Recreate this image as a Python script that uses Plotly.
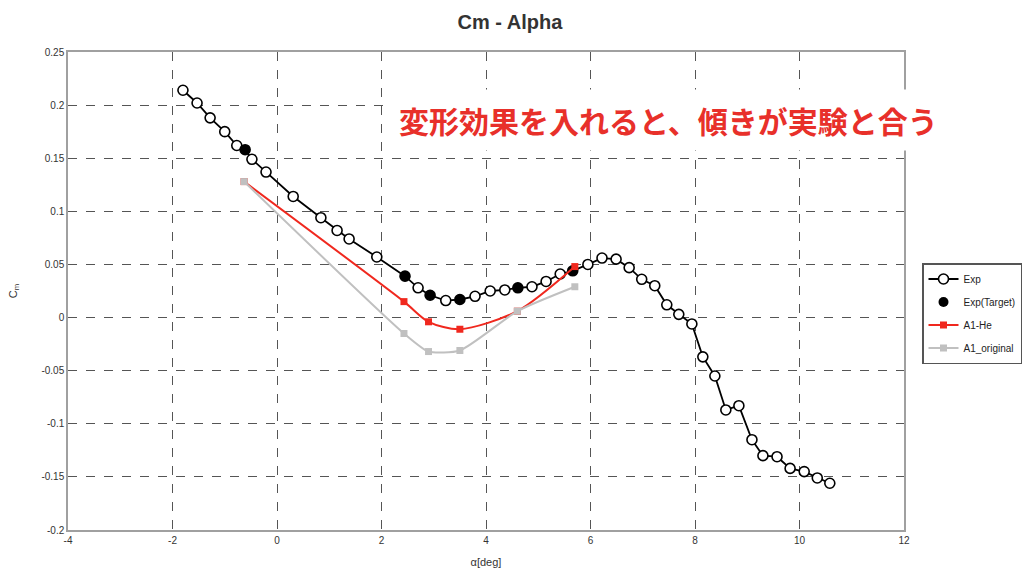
import plotly.graph_objects as go

# Experimental Cm vs alpha
exp_alpha = [-1.80, -1.53, -1.28, -1.00, -0.77, -0.61, -0.48, -0.21, 0.31, 0.84, 1.15, 1.38, 1.91,
             2.45, 2.70, 2.93, 3.23, 3.50, 3.79, 4.08, 4.36, 4.61, 4.88, 5.15, 5.42, 5.66, 5.95,
             6.22, 6.49, 6.74, 6.98, 7.23, 7.46, 7.69, 7.94, 8.15, 8.38, 8.59, 8.84, 9.09, 9.30,
             9.57, 9.82, 10.09, 10.34, 10.58]
exp_cm = [0.214, 0.202, 0.188, 0.175, 0.162, 0.158, 0.149, 0.137, 0.114, 0.094, 0.082, 0.074, 0.057,
          0.039, 0.028, 0.021, 0.016, 0.017, 0.020, 0.025, 0.026, 0.028, 0.029, 0.034, 0.041, 0.044, 0.050,
          0.056, 0.055, 0.047, 0.036, 0.030, 0.012, 0.003, -0.006, -0.037, -0.055, -0.087, -0.083, -0.115, -0.130,
          -0.131, -0.142, -0.145, -0.151, -0.156]

# Target points
tgt_alpha = [-0.61, 2.45, 2.93, 3.50, 4.61, 5.66]
tgt_cm = [0.158, 0.039, 0.021, 0.017, 0.028, 0.044]

# Calculations
calc_alpha = [-0.63, 2.43, 2.90, 3.50, 4.60, 5.70]
he_cm = [0.128, 0.015, -0.004, -0.011, 0.006, 0.048]
orig_cm = [0.128, -0.015, -0.032, -0.031, 0.006, 0.029]

y_ticks = [0.25, 0.2, 0.15, 0.1, 0.05, 0, -0.05, -0.1, -0.15, -0.2]
y_tick_text = ["0.25", "0.2", "0.15", "0.1", "0.05", "0", "-0.05", "-0.1", "-0.15", "-0.2"]
x_ticks = [-4, -2, 0, 2, 4, 6, 8, 10, 12]
x_tick_text = ["-4", "-2", "0", "2", "4", "6", "8", "10", "12"]

L, R, T, B = 68, 904, 52, 530
W, H = 1030, 579
pw, ph = R - L, B - T

fig = go.Figure()
fig.add_trace(go.Scatter(
    x=exp_alpha, y=exp_cm, name="Exp", mode="lines+markers", legendgroup="a",
    line=dict(color="black", width=1.8),
    marker=dict(symbol="circle", size=10, color="white", line=dict(color="black", width=1.6)),
))
fig.add_trace(go.Scatter(
    x=tgt_alpha, y=tgt_cm, name="Exp(Target)", mode="markers", legendgroup="b",
    marker=dict(symbol="circle", size=10, color="black"),
))
fig.add_trace(go.Scatter(
    x=calc_alpha, y=he_cm, name="A1-He", mode="lines+markers", legendgroup="c",
    line=dict(color="#f0281e", width=2, shape="spline", smoothing=0.8),
    marker=dict(symbol="square", size=7, color="#f0281e"),
))
fig.add_trace(go.Scatter(
    x=calc_alpha, y=orig_cm, name="A1_original", mode="lines+markers", legendgroup="d",
    line=dict(color="#c0c0c0", width=2, shape="spline", smoothing=0.6),
    marker=dict(symbol="square", size=7, color="#c0c0c0"),
))

axis_common = dict(
    showline=True, linecolor="#a0a0a0", linewidth=1.5, mirror=True,
    showgrid=True, gridcolor="#555555", griddash="dash", gridwidth=1,
    zeroline=False, tickfont=dict(size=10, color="#333333"), ticks="",
)
fig.update_xaxes(range=[-4, 12], tickvals=x_ticks, ticktext=x_tick_text,
                 title=dict(text="α[deg]", font=dict(size=11, color="#333333"), standoff=14),
                 **axis_common)
fig.update_yaxes(range=[-0.2, 0.25], tickvals=y_ticks, ticktext=y_tick_text,
                 title=dict(text="C<sub>m</sub>", font=dict(size=11, color="#333333"), standoff=22),
                 **axis_common)

fig.add_annotation(
    x=(390 - L) / pw, y=(B - 120) / ph, xref="paper", yref="paper", xanchor="left", yanchor="middle",
    text="<b>変形効果を入れると、傾きが実験と合う</b>", showarrow=False,
    font=dict(family="Noto Sans CJK JP", size=30, color="#e8302a"),
    bgcolor="white", borderpad=8,
)

fig.update_layout(
    width=W, height=H,
    margin=dict(l=L, r=W - R, t=T, b=H - B, autoexpand=False),
    paper_bgcolor="white", plot_bgcolor="white",
    font=dict(family="Liberation Sans", color="#333333"),
    title=dict(text="<b>Cm - Alpha</b>", x=510 / W, xanchor="center", y=1 - 22 / H, yanchor="middle",
               font=dict(size=20, color="#333333")),
    showlegend=True,
    legend=dict(x=(922 - L) / pw, y=(B - 263) / ph, xanchor="left", yanchor="top",
                bordercolor="#555555", borderwidth=1.5, bgcolor="white",
                font=dict(size=10, color="#222222"), tracegroupgap=4, itemwidth=30),
)

fig.write_html("out.html")
